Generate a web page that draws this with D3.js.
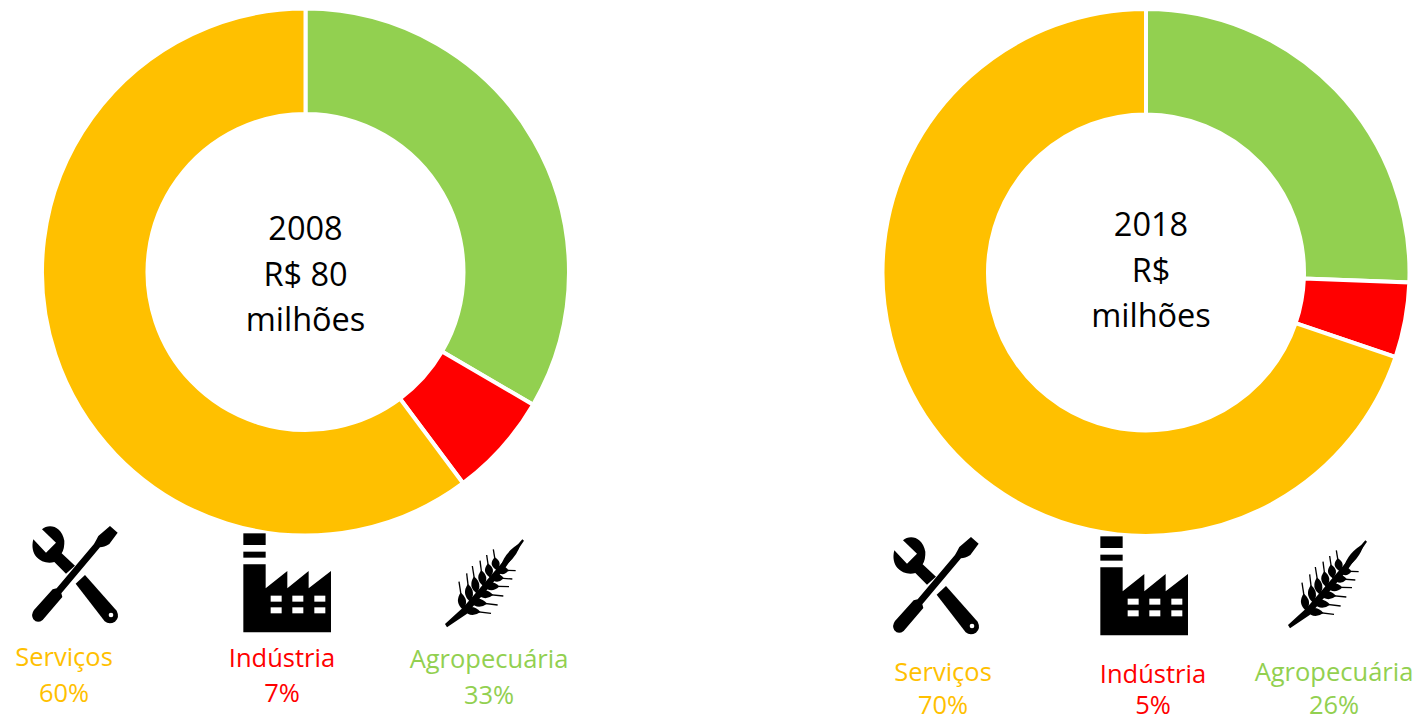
<!DOCTYPE html>
<html><head><meta charset="utf-8">
<script src="https://cdn.jsdelivr.net/npm/d3@7"></script>
<style>html,body{margin:0;padding:0;background:#fff}svg{display:block}text{font-family:"Open Sans",sans-serif}</style>
</head><body>
<svg id="c" width="1415" height="722"></svg>
<script>
const categories = ["Agropecuária", "Indústria", "Serviços"];
const colors = ["#92D050", "#FF0000", "#FFC000"];
const values2008 = [33.4, 6.4, 60.2];
const values2018 = [25.6, 4.6, 69.8];
const labels2008 = ["33%", "7%", "60%"];
const labels2018 = ["26%", "5%", "70%"];
const centre2008 = ["2008", "R$ 80", "milhões"];
const centre2018 = ["2018", "R$", "milhões"];

const wrenchPaths = [
  "M66,28 C85,10 125,16 133,62 Q134,85 125,100 L165,137 L138,161 L103,126 C72,136 26,112 40,58 L78,98 L108,68 Z",
  "M195,165 L290,272 Q300,292 285,305 Q268,315 254,304 L167,191 Z",
  "M110,205 L222,72 Q228,62 235,48 L270,18 L293,38 L268,72 Q252,82 240,82 L124,220 L127,231 L68,300 Q52,312 40,298 Q32,284 42,270 L98,208 Z"
];
const wrenchHole = [273, 285, 7];
const factoryPaths = [
  "M25,25H92V60H25Z",
  "M25,80H92V98H25Z",
  "M25,118H92V190L157,138V190L221,138V190L288,138V322H25Z"
];
const factoryWindowX = [107, 172, 238];
const factoryWindowY = [212, 247];
const wheatBases = [[85,240],[105,215],[125,190],[145,168],[165,142],[185,120]];
const wheatUpperTips = [[72,155],[95,130],[112,108],[135,92],[155,75],[175,58]];
const wheatLowerTips = [[168,250],[188,225],[205,198],[222,170],[232,147],[242,122]];

const svg = d3.select("#c");
const arc = d3.arc().innerRadius(158).outerRadius(263.5);
const pie = d3.pie().sort(null).value(d => d);

function donut(cx, cy, vals, lines, lineX, lineY) {
  const g = svg.append("g").attr("transform", `translate(${cx},${cy})`);
  g.selectAll("path").data(pie(vals)).join("path")
    .attr("d", arc).attr("fill", (d, i) => colors[i])
    .attr("stroke", "#fff").attr("stroke-width", 4);
  svg.selectAll(null).data(lines).enter().append("text")
    .attr("x", lineX).attr("y", (d, i) => lineY[i])
    .attr("text-anchor", "middle").attr("font-size", 32.5).attr("fill", "#000").text(d => d);
}
donut(305.5, 272, values2008, centre2008, 305.5, [240, 286, 331]);
donut(1146, 272.5, values2018, centre2018, 1151, [236, 282, 327]);

function legend(idx, x, y1, y2, pct) {
  svg.append("text").attr("x", x).attr("y", y1).attr("text-anchor", "middle")
    .attr("font-size", 25.5).attr("fill", colors[idx]).text(categories[idx]);
  svg.append("text").attr("x", x).attr("y", y2).attr("text-anchor", "middle")
    .attr("font-size", 25.5).attr("fill", colors[idx]).text(pct[idx]);
}
[[2,64,666,702],[1,282,667,702],[0,489,668,704]].forEach(a => legend(a[0],a[1],a[2],a[3],labels2008));
[[2,943,681,714],[1,1153,683,714],[0,1334,681,714]].forEach(a => legend(a[0],a[1],a[2],a[3],labels2018));

function wrench(x, y) {
  const g = svg.append("g").attr("transform", `translate(${x},${y}) scale(0.3333)`);
  wrenchPaths.forEach(p => g.append("path").attr("d", p).attr("fill", "#000"));
  g.append("circle").attr("cx", wrenchHole[0]).attr("cy", wrenchHole[1]).attr("r", wrenchHole[2]).attr("fill", "#fff");
}
function factory(x, y) {
  const g = svg.append("g").attr("transform", `translate(${x},${y}) scale(0.3333)`);
  factoryPaths.forEach(p => g.append("path").attr("d", p).attr("fill", "#000"));
  factoryWindowX.forEach(wx => factoryWindowY.forEach(wy =>
    g.append("rect").attr("x", wx).attr("y", wy).attr("width", 33).attr("height", 18).attr("fill", "#fff")));
}
function lens(a, t, frac, w) {
  const dx = t[0]-a[0], dy = t[1]-a[1];
  const e = [a[0]+dx*frac, a[1]+dy*frac];
  const n = [-dy, dx], l = Math.hypot(n[0], n[1]);
  const m = [a[0]+dx*frac*0.5, a[1]+dy*frac*0.5];
  const c1 = [m[0]+n[0]/l*w, m[1]+n[1]/l*w], c2 = [m[0]-n[0]/l*w, m[1]-n[1]/l*w];
  return `M${a}Q${c1} ${e}Q${c2} ${a}Z`;
}
function wheat(x, y) {
  const g = svg.append("g").attr("transform", `translate(${x},${y}) scale(0.3333)`);
  g.append("path").attr("d", "M30,282 L85,232 L262,28 L267,32 L208,118 L95,252 L36,292Z").attr("fill", "#000");
  wheatBases.forEach((b, i) => {
    [wheatUpperTips[i], wheatLowerTips[i]].forEach(t => {
      g.append("path").attr("d", lens(b, t, 0.62, 24)).attr("fill", "#000");
      g.append("line").attr("x1", b[0]).attr("y1", b[1]).attr("x2", t[0]).attr("y2", t[1])
        .attr("stroke", "#000").attr("stroke-width", 4);
    });
  });
  g.append("path").attr("d", lens([195,115],[265,30],0.9,22)).attr("fill", "#000");
}
wrench(20, 520); factory(235, 525); wheat(435, 530);
wrench(881, 531); factory(1092, 528); wheat(1278, 531);
</script>
</body></html>
